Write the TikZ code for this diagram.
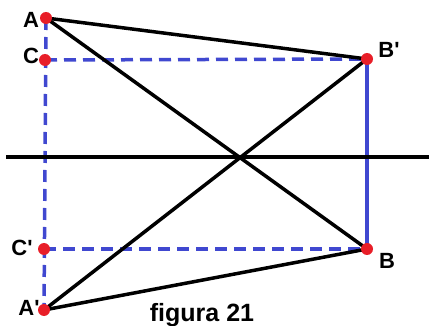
\documentclass[tikz,border=0pt]{standalone}
\usepackage{fontspec}
\setmainfont{Liberation Sans}
\definecolor{bl}{RGB}{64,72,208}
\definecolor{rd}{RGB}{232,30,40}
\begin{document}
\begin{tikzpicture}[x=1pt,y=-1pt,
  pt/.style={circle,fill=rd,inner sep=0pt,minimum size=12pt},
  lbl/.style={font=\fontsize{22}{22}\selectfont\bfseries,inner sep=0pt},
  bk/.style={line width=3.5pt,black},
  bd/.style={line width=3.5pt,bl,dash pattern=on 12pt off 7pt},
  bs/.style={line width=3.5pt,bl}]
\useasboundingbox (0,0) rectangle (429,326);
\coordinate (L) at (6,157);
\coordinate (R) at (429,157);
\coordinate (pA) at (46,18);
\coordinate (pC) at (45,60);
\coordinate (pBp) at (367,59);
\coordinate (pB) at (367,249);
\coordinate (pCp) at (44,249);
\coordinate (pAp) at (44,310);
\draw[bd] (pA) -- (pAp);
\draw[bd] (pC) -- (pBp);
\draw[bd] (pCp) -- (pB);
\draw[bs] (pBp) -- (pB);
\draw[bk] (L) -- (R);
\draw[bk] (pA) -- (pBp);
\draw[bk] (pA) -- (pB);
\draw[bk] (pAp) -- (pBp);
\draw[bk] (pAp) -- (pB);
\foreach \p in {pA,pC,pBp,pB,pCp,pAp} \node[pt] at (\p) {};
\node[lbl] (tA) at (31,20) {A};
\node[lbl] (tC) at (31,56) {C};
\node[lbl] (tBp) at (389,50) {B\textquotesingle};
\node[lbl] (tB) at (387,261) {B};
\node[lbl] (tCp) at (22,248) {C\textquotesingle};
\node[lbl] (tAp) at (29,308) {A\textquotesingle};
\node[font=\fontsize{25}{25}\selectfont\bfseries,inner sep=0pt,anchor=base] (fig) at (202,322) {figura 21};
\end{tikzpicture}
\end{document}
